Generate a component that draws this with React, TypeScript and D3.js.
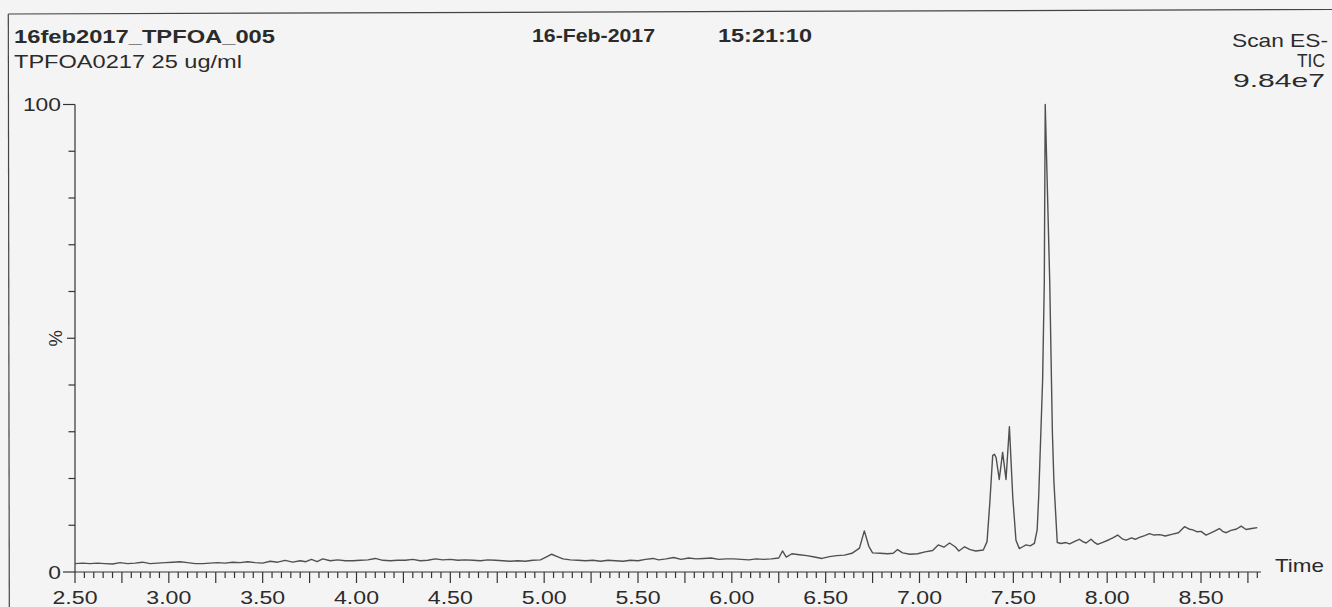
import { FC, useEffect, useRef } from 'react';
import * as d3 from 'd3';

// retention time (min) / relative intensity (%)
const retentionTimes = [
  2.5, 2.54, 2.58, 2.62, 2.66, 2.7, 2.74, 2.78, 2.82, 2.86, 2.9, 2.94, 2.98, 3.02, 3.06, 3.1,
  3.14, 3.18, 3.22, 3.26, 3.3, 3.34, 3.38, 3.42, 3.46, 3.5, 3.54, 3.58, 3.62, 3.66, 3.7, 3.73,
  3.76, 3.79, 3.82, 3.86, 3.9, 3.94, 3.98, 4.02, 4.06, 4.1, 4.14, 4.18, 4.22, 4.26, 4.3, 4.34,
  4.38, 4.42, 4.46, 4.5, 4.54, 4.58, 4.62, 4.66, 4.7, 4.74, 4.78, 4.82, 4.86, 4.9, 4.94, 4.98,
  5.01, 5.04, 5.07, 5.1, 5.14, 5.18, 5.22, 5.26, 5.3, 5.34, 5.38, 5.42, 5.46, 5.5, 5.54, 5.58,
  5.61, 5.65, 5.69, 5.73, 5.77, 5.81, 5.85, 5.89, 5.93, 5.97, 6.01, 6.05, 6.09, 6.13, 6.17, 6.21,
  6.25, 6.27, 6.29, 6.32, 6.36, 6.4, 6.44, 6.48, 6.52, 6.56, 6.6, 6.64, 6.68, 6.706, 6.73, 6.75,
  6.79, 6.83, 6.86, 6.883, 6.91, 6.95, 6.99, 7.03, 7.07, 7.1, 7.13, 7.16, 7.19, 7.21, 7.24, 7.27,
  7.3, 7.34, 7.36, 7.375, 7.39, 7.399, 7.408, 7.425, 7.443, 7.461, 7.479, 7.497, 7.514, 7.532,
  7.55, 7.568, 7.59, 7.612, 7.627, 7.635, 7.656, 7.665, 7.67, 7.694, 7.708, 7.716, 7.734, 7.754,
  7.78, 7.8, 7.83, 7.852, 7.87, 7.888, 7.914, 7.93, 7.949, 7.98, 8.01, 8.03, 8.056, 8.08, 8.101,
  8.13, 8.15, 8.172, 8.2, 8.225, 8.25, 8.28, 8.31, 8.349, 8.38, 8.412, 8.435, 8.456, 8.48, 8.5,
  8.527, 8.55, 8.575, 8.598, 8.615, 8.634, 8.66, 8.69, 8.714, 8.74, 8.77, 8.8,
];

const relIntensity = [
  1.8, 1.9, 1.8, 1.9, 1.8, 1.7, 2.0, 1.8, 1.9, 2.1, 1.8, 1.9, 2.0, 2.1, 2.2, 2.0,
  1.8, 1.8, 1.9, 2.0, 1.9, 2.1, 2.0, 2.2, 2.0, 1.9, 2.3, 2.1, 2.5, 2.1, 2.4, 2.2,
  2.7, 2.2, 2.8, 2.4, 2.6, 2.4, 2.4, 2.5, 2.6, 2.9, 2.5, 2.4, 2.5, 2.5, 2.7, 2.4,
  2.5, 2.8, 2.6, 2.7, 2.5, 2.6, 2.5, 2.4, 2.6, 2.5, 2.4, 2.3, 2.4, 2.3, 2.5, 2.6,
  3.2, 3.8, 3.3, 2.8, 2.6, 2.5, 2.4, 2.5, 2.3, 2.5, 2.4, 2.3, 2.5, 2.4, 2.7, 2.9,
  2.6, 2.8, 3.1, 2.7, 3.0, 2.8, 2.9, 3.0, 2.7, 2.8, 2.8, 2.7, 2.6, 2.8, 2.7, 2.8,
  3.0, 4.5, 3.2, 3.9, 3.7, 3.5, 3.2, 2.9, 3.3, 3.5, 3.6, 4.0, 5.1, 8.8, 5.5, 4.1,
  4.0, 3.9, 4.0, 4.8, 4.1, 3.8, 3.9, 4.3, 4.6, 5.8, 5.3, 6.2, 5.4, 4.5, 5.4, 4.8,
  4.5, 4.7, 6.5, 15, 24.9, 25.2, 24.5, 19.8, 25.6, 19.8, 31.1, 16, 6.8, 5.0,
  5.4, 5.8, 5.6, 6.1, 9, 16, 41, 62, 100, 62, 30, 19.5, 6.3, 6.1,
  6.3, 6.0, 6.6, 7.0, 6.5, 6.2, 7.0, 6.4, 5.9, 6.4, 6.9, 7.3, 7.9, 7.1, 6.8,
  7.3, 7.0, 7.4, 7.8, 8.2, 7.9, 8.0, 7.7, 8.1, 8.4, 9.7, 9.2, 9.0, 8.6, 8.7,
  7.9, 8.3, 8.8, 9.3, 8.7, 8.4, 8.9, 9.2, 9.8, 9.1, 9.3, 9.5,
];

const xTickLabels = ['2.50', '3.00', '3.50', '4.00', '4.50', '5.00', '5.50', '6.00', '6.50', '7.00', '7.50', '8.00', '8.50'];
const yTickLabels = ['0', '100'];

const sampleName = '16feb2017_TPFOA_005';
const sampleDate = '16-Feb-2017';
const sampleTime = '15:21:10';
const sampleDesc = 'TPFOA0217 25 ug/ml';
const scanInfo = ['Scan ES-', 'TIC', '9.84e7'];

const W = 1332;
const H = 607;
const FONT = "'Liberation Sans', Arial, sans-serif";
const INK = '#2b2b2b';

const Chromatogram: FC = () => {
  const svgRef = useRef<SVGSVGElement>(null);

  useEffect(() => {
    if (!svgRef.current) return;
    const svg = d3.select(svgRef.current);
    svg.selectAll('*').remove();

    const x = d3.scaleLinear().domain([2.5, 8.5]).range([75, 1201]);
    const y = d3.scaleLinear().domain([0, 100]).range([572, 104.5]);
    const xEnd = 8.82;

    // page frame (scan is slightly skewed)
    svg.append('line').attr('x1', 8.3).attr('y1', 14).attr('x2', W).attr('y2', 9.5)
      .attr('stroke', '#444').attr('stroke-width', 1.2);
    svg.append('line').attr('x1', 8.3).attr('y1', 14).attr('x2', 9.3).attr('y2', H)
      .attr('stroke', '#444').attr('stroke-width', 1.2);

    // header texts
    const txt = (s: string, px: number, py: number, len: number, bold = false, anchor = 'start') =>
      svg.append('text')
        .attr('x', px).attr('y', py)
        .attr('font-family', FONT).attr('font-size', 18.5)
        .attr('font-weight', bold ? 'bold' : 'normal')
        .attr('text-anchor', anchor)
        .attr('fill', INK)
        .attr('textLength', len).attr('lengthAdjust', 'spacingAndGlyphs')
        .text(s);

    txt(sampleName, 14, 42.5, 261, true);
    txt(sampleDate, 532, 42, 123, true);
    txt(sampleTime, 718, 42, 94, true);
    txt(sampleDesc, 14, 68.3, 228);
    txt(scanInfo[0], 1328, 46.5, 96, false, 'end');
    txt(scanInfo[1], 1325, 66.5, 28, false, 'end');
    txt(scanInfo[2], 1325, 87, 92, false, 'end');

    // x axis
    const ax = svg.append('g').attr('stroke', '#333').attr('stroke-width', 1.2);
    ax.append('line').attr('x1', x(2.5)).attr('x2', x(xEnd)).attr('y1', y(0)).attr('y2', y(0));
    const xTicks = d3.range(0, 127).map(i => ({ v: 2.5 + i * 0.05, major: i % 5 === 0 }));
    ax.selectAll('.xt').data(xTicks).enter().append('line')
      .attr('x1', d => x(d.v)).attr('x2', d => x(d.v))
      .attr('y1', y(0)).attr('y2', d => y(0) + (d.major ? 11 : 6));

    svg.selectAll('.xl').data(xTickLabels).enter().append('text')
      .attr('x', d => x(+d)).attr('y', 603.5)
      .attr('text-anchor', 'middle')
      .attr('font-family', FONT).attr('font-size', 18.5).attr('fill', INK)
      .attr('textLength', 45).attr('lengthAdjust', 'spacingAndGlyphs')
      .text(d => d);

    txt('Time', 1275, 572, 49);

    // y axis
    ax.append('line').attr('x1', x(2.5)).attr('x2', x(2.5)).attr('y1', y(0)).attr('y2', y(100));
    ax.selectAll('.yt').data(d3.range(0, 101, 10)).enter().append('line')
      .attr('x1', x(2.5)).attr('x2', d => x(2.5) - (d % 100 === 0 ? 12 : d === 50 ? 8 : 6.5))
      .attr('y1', d => y(d)).attr('y2', d => y(d));

    svg.selectAll('.yl').data(yTickLabels).enter().append('text')
      .attr('x', 61).attr('y', d => y(+d) + 6.5)
      .attr('text-anchor', 'end')
      .attr('font-family', FONT).attr('font-size', 18.5).attr('fill', INK)
      .attr('textLength', d => d.length * 12.7).attr('lengthAdjust', 'spacingAndGlyphs')
      .text(d => d);

    svg.append('text')
      .attr('transform', `translate(62,${y(50)}) rotate(-90)`)
      .attr('text-anchor', 'middle')
      .attr('font-family', FONT).attr('font-size', 18.5).attr('fill', INK)
      .text('%');

    // trace
    const pts = retentionTimes.map((t, i) => [t, relIntensity[i]] as [number, number]);
    const line = d3.line<[number, number]>().x(d => x(d[0])).y(d => y(d[1]));
    svg.append('path').datum(pts)
      .attr('fill', 'none').attr('stroke', '#505050').attr('stroke-width', 1.4)
      .attr('stroke-linejoin', 'round')
      .attr('d', line);
  }, []);

  return (
    <svg
      ref={svgRef}
      width={W}
      height={H}
      style={{ position: 'absolute', left: 0, top: 0, display: 'block', background: '#f4f4f4' }}
    />
  );
};

export default function App() {
  return <Chromatogram />;
}
